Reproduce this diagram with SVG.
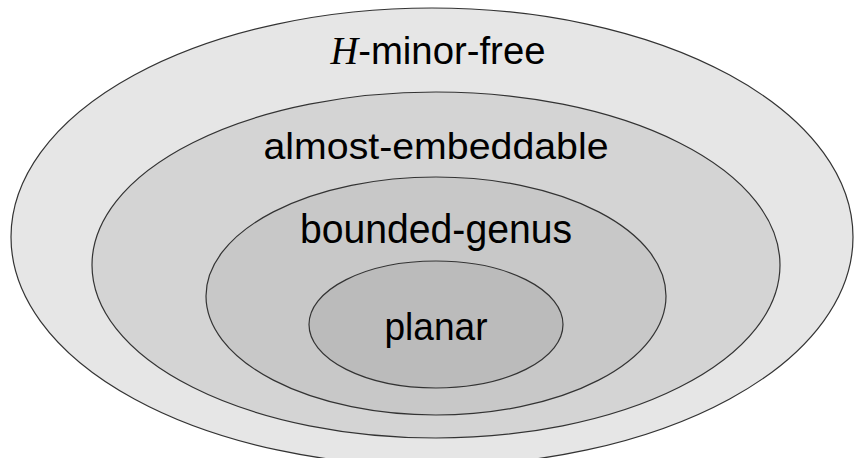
<svg xmlns="http://www.w3.org/2000/svg" width="854" height="458" viewBox="0 0 854 458">
<style>
.e{stroke:#333;stroke-width:1.2}
.t{font-family:"Liberation Sans",Arial,Helvetica,sans-serif;fill:#000;text-anchor:middle}
.i{font-family:"Liberation Serif","Times New Roman",serif;font-style:italic}
</style>
<rect width="854" height="458" fill="#fff"/>
<g id="hminorfree">
<ellipse class="e" cx="432" cy="237" rx="421" ry="229" fill="#e6e6e6"/>
<text class="t" x="438" y="64" font-size="39" textLength="215" lengthAdjust="spacingAndGlyphs"><tspan class="i">H</tspan>-minor-free</text>
</g>
<g id="almost">
<ellipse class="e" cx="436" cy="265" rx="344" ry="173" fill="#d4d4d4"/>
<text class="t" x="436" y="159" font-size="36" textLength="345" lengthAdjust="spacingAndGlyphs">almost-embeddable</text>
</g>
<g id="genus">
<ellipse class="e" cx="436" cy="296" rx="230" ry="119" fill="#c8c8c8"/>
<text class="t" x="436" y="243" font-size="40" textLength="272" lengthAdjust="spacingAndGlyphs">bounded-genus</text>
</g>
<g id="planar">
<ellipse class="e" cx="436" cy="324.5" rx="127" ry="63.5" fill="#bbbbbb"/>
<text class="t" x="436" y="340" font-size="39" textLength="103" lengthAdjust="spacingAndGlyphs">planar</text>
</g>
<g id="connectors"/>
</svg>
